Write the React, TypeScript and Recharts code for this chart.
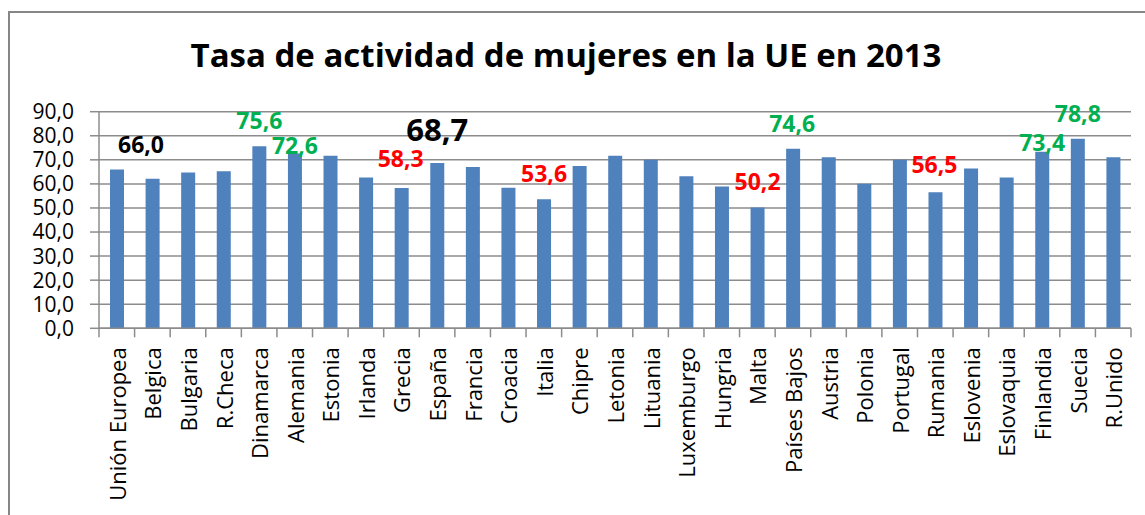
import React from 'react';
import { BarChart, Bar, XAxis, YAxis, CartesianGrid, LabelList } from 'recharts';

const title = 'Tasa de actividad de mujeres en la UE en 2013';

const categories = [
  'Unión Europea', 'Belgica', 'Bulgaria', 'R.Checa', 'Dinamarca', 'Alemania', 'Estonia',
  'Irlanda', 'Grecia', 'España', 'Francia', 'Croacia', 'Italia', 'Chipre', 'Letonia',
  'Lituania', 'Luxemburgo', 'Hungria', 'Malta', 'Países Bajos', 'Austria', 'Polonia',
  'Portugal', 'Rumania', 'Eslovenia', 'Eslovaquia', 'Finlandia', 'Suecia', 'R.Unido',
];

const values = [
  66.0, 62.1, 64.7, 65.3, 75.6, 72.6, 71.7,
  62.7, 58.3, 68.7, 67.0, 58.4, 53.6, 67.4, 71.7,
  70.0, 63.2, 58.9, 50.2, 74.6, 71.1, 60.1,
  70.0, 56.5, 66.4, 62.7, 73.4, 78.8, 71.1,
];

const yTicks = [0, 10, 20, 30, 40, 50, 60, 70, 80, 90];

// categories whose value is written above the bar (styling only)
const GREEN = '#00B050';
const RED = '#FF0000';
const labelStyle: Record<string, { color: string; size: number; lift: number; dx: number }> = {
  'Unión Europea': { color: '#000000', size: 23, lift: 25, dx: 24 },
  'Dinamarca': { color: GREEN, size: 23, lift: 26, dx: 0 },
  'Alemania': { color: GREEN, size: 23, lift: 9, dx: 0 },
  'Grecia': { color: RED, size: 23, lift: 30, dx: -1 },
  'España': { color: '#000000', size: 31, lift: 34, dx: 0 },
  'Italia': { color: RED, size: 23, lift: 26, dx: 0 },
  'Malta': { color: RED, size: 23, lift: 26, dx: 0 },
  'Países Bajos': { color: GREEN, size: 23, lift: 26, dx: -1 },
  'Rumania': { color: RED, size: 23, lift: 28, dx: -1 },
  'Finlandia': { color: GREEN, size: 23, lift: 10, dx: 0 },
  'Suecia': { color: GREEN, size: 23, lift: 26, dx: 0 },
};

const data = categories.map((name, i) => ({ name, value: values[i] }));

const fmt = (v: number) => v.toFixed(1).replace('.', ',');

const FONT = '"Open Sans", "DejaVu Sans", sans-serif';
const GRID = '#8C8C8C';
const TICK_SIZE = 9;
const TICK_MARGIN = 10;

const XTick = (props: any) => {
  const { x, y, payload, index } = props;
  const half = payload && payload.offset ? payload.offset : 17.8;
  const axisY = y - TICK_SIZE - TICK_MARGIN;
  return (
    <g>
      {index === 0 && (
        <line x1={x - half} x2={x - half} y1={axisY} y2={axisY + TICK_SIZE} stroke={GRID} strokeWidth={1.5} />
      )}
      <line x1={x + half} x2={x + half} y1={axisY} y2={axisY + TICK_SIZE} stroke={GRID} strokeWidth={1.5} />
      <text
        x={x}
        y={y}
        transform={`rotate(-90, ${x}, ${y})`}
        textAnchor="end"
        dominantBaseline="central"
        fontSize={22}
        fontFamily={FONT}
        fill="#000"
      >
        {payload.value}
      </text>
    </g>
  );
};

const ValueLabel = (props: any) => {
  const { x, y, width, index } = props;
  const name = categories[index];
  const st = labelStyle[name];
  if (!st) return null;
  const cx = Number(x) + Number(width) / 2 + st.dx;
  const cy = Number(y) - st.lift;
  return (
    <text
      x={cx}
      y={cy}
      textAnchor="middle"
      dominantBaseline="central"
      fontSize={st.size}
      fontWeight="bold"
      fontFamily={FONT}
      fill={st.color}
    >
      {fmt(values[index])}
    </text>
  );
};

export default function App() {
  return (
    <div style={{ position: 'absolute', left: 0, top: 0, width: 1145, height: 515, overflow: 'hidden', background: '#fff' }}>
      <svg width={1145} height={515} style={{ position: 'absolute', left: 0, top: 0 }}>
        <path d="M 9 600 L 9 12 L 1200 12" fill="none" stroke="#868686" strokeWidth={2} />
        <text x={566} y={67} textAnchor="middle" fontSize={33} fontWeight="bold" fontFamily={FONT} fill="#000">
          {title}
        </text>
      </svg>
      <div style={{ position: 'absolute', left: 0, top: 0 }}>
        <BarChart
          width={1145}
          height={515}
          data={data}
          margin={{ top: 111.7, right: 14, bottom: 6.7, left: 9 }}
          barSize={14}
        >
          <CartesianGrid horizontal vertical={false} stroke={GRID} strokeWidth={1.5} />
          <YAxis
            width={90}
            domain={[0, 90]}
            ticks={yTicks}
            interval={0}
            tickFormatter={fmt}
            tickSize={TICK_SIZE}
            tickMargin={16}
            axisLine={{ stroke: GRID, strokeWidth: 1.5 }}
            tickLine={{ stroke: GRID, strokeWidth: 1.5 }}
            tick={{ fontSize: 21, fontFamily: FONT, fill: '#000' }}
          />
          <XAxis
            dataKey="name"
            height={180}
            interval={0}
            tickSize={TICK_SIZE}
            tickMargin={TICK_MARGIN}
            tickLine={false}
            axisLine={{ stroke: GRID, strokeWidth: 1.5 }}
            tick={<XTick />}
          />
          <Bar dataKey="value" fill="#4F81BD" isAnimationActive={false}>
            <LabelList dataKey="value" content={<ValueLabel />} />
          </Bar>
        </BarChart>
      </div>
    </div>
  );
}
